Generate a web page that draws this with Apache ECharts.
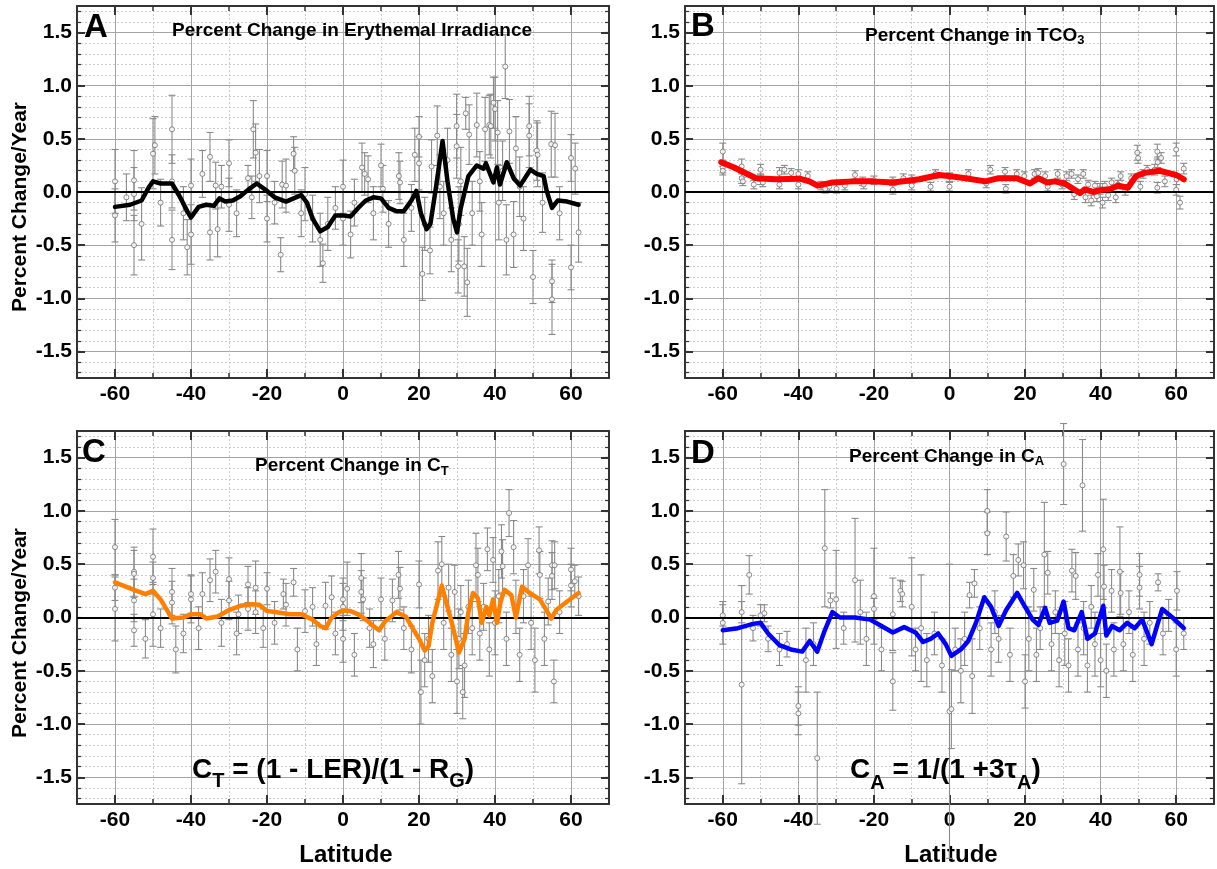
<!DOCTYPE html>
<html><head><meta charset="utf-8">
<script src="https://cdn.jsdelivr.net/npm/echarts@6.0.0/dist/echarts.min.js"></script>
<style>html,body{margin:0;padding:0;background:#fff}#c{width:1217px;height:869px}</style>
</head><body><div id="c"></div>
<script>
// ---------------- DATA ----------------
const xTickLabels = [-60, -40, -20, 0, 20, 40, 60];
const yTickLabels = [-1.5, -1.0, -0.5, 0.0, 0.5, 1.0, 1.5];
const yMinorTickValues = [-1.7,-1.6,-1.5,-1.4,-1.3,-1.2,-1.1,-1.0,-0.9,-0.8,-0.7,-0.6,-0.5,-0.4,-0.3,-0.2,-0.1,0,
  0.1,0.2,0.3,0.4,0.5,0.6,0.7,0.8,0.9,1.0,1.1,1.2,1.3,1.4,1.5,1.6,1.7];

// [latitude, value, error]
const scatterA = [
[-60,0.10,0.30],[-60,-0.22,0.25],[-57,-0.05,0.22],[-55,0.11,0.28],[-55,-0.02,0.25],[-55,-0.50,0.28],[-53,-0.30,0.34],
[-50,0.36,0.33],[-49.5,0.44,0.27],[-48,-0.10,0.22],[-45,0.59,0.32],[-45,0.10,0.25],[-45,-0.45,0.28],[-42,-0.20,0.25],
[-41,-0.52,0.26],[-40,0.06,0.25],[-40,-0.40,0.28],[-37,0.17,0.22],[-35,0.33,0.23],[-35,-0.38,0.26],[-33.5,0.06,0.22],
[-33,-0.35,0.26],[-32,0.05,0.20],[-30,0.27,0.22],[-30,-0.12,0.25],[-28,-0.20,0.22],[-25,0.13,0.12],[-24,-0.05,0.20],
[-23.6,0.59,0.27],[-23,0.37,0.27],[-22,0.15,0.25],[-20,0.15,0.24],[-20,-0.25,0.22],[-18,-0.10,0.20],[-16.4,-0.59,0.16],
[-16,0.07,0.22],[-15,0.06,0.25],[-13,0.36,0.16],[-12.7,0.20,0.22],[-11,-0.20,0.22],[-10,-0.02,0.25],[-8,-0.25,0.22],
[-6,-0.45,0.25],[-5.3,-0.67,0.18],[-4,-0.30,0.25],[-2,-0.15,0.20],[0,0.05,0.25],[0,-0.25,0.25],[2,-0.40,0.22],
[3,-0.10,0.22],[5,0.23,0.23],[5.7,0.17,0.20],[6.6,0.12,0.22],[8,-0.20,0.25],[10,0.25,0.20],[10.5,0.03,0.22],
[12,-0.30,0.22],[14.7,0.15,0.22],[15,0.09,0.20],[16,-0.45,0.25],[18,-0.15,0.22],[18.9,0.35,0.25],[20,0.52,0.19],
[20,0.27,0.25],[20.9,-0.77,0.25],[21.5,-0.30,0.25],[22.9,-0.55,0.22],[23.3,0.24,0.25],[24.8,0.53,0.28],[25.5,0.05,0.30],
[26.5,-0.20,0.30],[27.5,0.30,0.30],[28.5,-0.45,0.30],[29.9,0.62,0.30],[29.9,0.43,0.30],[30.3,-0.70,0.25],[30.5,-0.30,0.35],
[31,0.10,0.32],[31.9,-0.70,0.28],[32.3,0.74,0.15],[32.7,-0.85,0.32],[33.2,0.54,0.28],[34,-0.20,0.30],[35.2,0.63,0.30],
[36,0.10,0.28],[36.5,-0.40,0.30],[37.4,0.59,0.30],[38.5,0.63,0.28],[38.9,0.62,0.30],[39.6,0.84,0.24],[40,0.78,0.30],
[40.7,0.56,0.30],[41,-0.10,0.35],[42,0.20,0.28],[42.7,1.18,0.30],[43,-0.45,0.33],[43.8,0.57,0.30],[44.9,-0.40,0.31],
[45.5,0.41,0.30],[46.5,0.05,0.28],[47.5,-0.25,0.30],[49,0.62,0.28],[49,0.53,0.30],[50,-0.80,0.25],[51,0.39,0.28],
[51.2,0.35,0.30],[52.5,-0.10,0.28],[54.8,0.45,0.31],[55,-0.84,0.20],[55,-1.01,0.33],[55.8,0.44,0.30],[57,-0.20,0.25],
[60,0.32,0.22],[60,-0.71,0.21],[61.1,0.22,0.24],[62,-0.38,0.28]
];
const lineA = [
[-60,-0.14],[-56,-0.12],[-53,-0.08],[-51,0.05],[-50,0.10],[-48,0.08],[-45,0.08],[-43,-0.04],[-41,-0.18],[-40,-0.24],
[-38,-0.14],[-36,-0.12],[-34,-0.13],[-32.5,-0.06],[-31,-0.09],[-29,-0.08],[-27,-0.04],[-25,0.02],[-22.7,0.08],[-20,0.01],
[-18,-0.05],[-15,-0.09],[-13,-0.06],[-11,-0.03],[-9.5,-0.10],[-8,-0.25],[-6,-0.37],[-4,-0.33],[-2,-0.22],[0,-0.22],
[2,-0.23],[4,-0.15],[6,-0.08],[8,-0.05],[10,-0.06],[12,-0.15],[14,-0.18],[16,-0.18],[18,-0.08],[19.3,0.01],
[20.5,-0.20],[22,-0.35],[23,-0.30],[24.5,0.05],[26.2,0.48],[27.5,0.10],[29,-0.25],[30,-0.38],[31,-0.15],[33,0.15],
[35.2,0.25],[37,0.22],[37.6,0.27],[39.6,0.09],[40.5,0.23],[41.3,0.07],[43.1,0.28],[44.9,0.13],[46.6,0.06],[49.3,0.21],
[51,0.17],[52.8,0.15],[53.6,0.01],[55,-0.15],[56.5,-0.08],[59,-0.09],[62,-0.12]
];

const scatterB = [
[-60,0.38,0.08],[-60,0.23,0.05],[-60,0.20,0.04],[-55,0.24,0.07],[-55,0.13,0.05],[-54.7,0.10,0.04],[-51.8,0.07,0.04],
[-50,0.21,0.05],[-50,0.12,0.05],[-49.4,0.09,0.04],[-45,0.18,0.05],[-45,0.07,0.04],[-43.7,0.21,0.04],[-41.9,0.18,0.04],
[-40,0.17,0.04],[-40,0.07,0.04],[-37.5,0.15,0.04],[-34,0.06,0.04],[-32.9,0.03,0.04],[-31.8,0.05,0.04],[-29.9,0.03,0.04],
[-27.7,0.06,0.04],[-25,0.16,0.04],[-23,0.10,0.04],[-22.7,0.07,0.04],[-20,0.11,0.04],[-15,0.10,0.04],[-15,0.02,0.04],
[-12.2,0.13,0.04],[-10,0.12,0.04],[-10,0.06,0.04],[-5,0.05,0.04],[-3.7,0.17,0.04],[0,0.05,0.04],[0,0.14,0.04],
[5,0.17,0.04],[9.7,0.08,0.04],[10.8,0.21,0.04],[14.7,0.19,0.04],[14.9,0.03,0.04],[17.8,0.17,0.04],[19.8,0.15,0.04],
[22.5,0.17,0.04],[23.5,0.18,0.04],[25.3,0.15,0.04],[26,0.05,0.04],[28.6,0.17,0.04],[29.8,0.07,0.04],[31,0.15,0.04],
[32.3,0.17,0.04],[33,-0.02,0.05],[34,0.12,0.04],[35.4,0.17,0.04],[36,-0.05,0.05],[36.7,0.07,0.04],[37.5,-0.08,0.05],
[38.5,0.06,0.04],[39,-0.04,0.05],[39.8,0.03,0.05],[40.5,-0.10,0.05],[41.1,0.06,0.04],[42,-0.03,0.05],[42.9,0.09,0.04],
[44,-0.05,0.05],[44.6,0.07,0.04],[45.3,0.15,0.04],[46.5,0.02,0.05],[48.1,0.13,0.04],[49.7,0.37,0.07],[49.9,0.32,0.05],
[50.5,0.05,0.05],[51.2,0.17,0.04],[52.3,0.21,0.04],[54.3,0.21,0.05],[55,0.38,0.07],[55.1,0.28,0.05],[55,0.04,0.05],
[56,0.32,0.05],[57,0.10,0.05],[60,0.40,0.06],[60.1,0.12,0.05],[60,0.02,0.05],[61,-0.10,0.06],[62,0.22,0.05]
];
const lineB = [
[-60.4,0.28],[-57,0.23],[-54.7,0.19],[-51.2,0.13],[-45.9,0.12],[-39.7,0.125],[-37.1,0.10],[-34.9,0.06],[-30.9,0.09],
[-25.6,0.10],[-20.4,0.10],[-15,0.09],[-10,0.11],[-8,0.12],[-2.8,0.16],[-0.2,0.15],[4.2,0.13],[9.5,0.10],[13,0.13],
[17.8,0.13],[21.3,0.08],[23.5,0.13],[25.7,0.09],[27.9,0.10],[30.5,0.08],[32.7,0.03],[34.5,-0.01],[35.8,0.025],
[38,0.0],[40.2,0.02],[42.4,0.025],[44.6,0.06],[47.2,0.04],[49.4,0.15],[51.6,0.18],[55.6,0.20],[57.8,0.18],[60,0.16],[62,0.12]
];

const scatterC = [
[-60,0.66,0.26],[-60,0.28,0.12],[-60,0.08,0.30],[-55,0.43,0.23],[-55,0.41,0.22],[-55,0.16,0.20],[-55,-0.12,0.15],
[-52,-0.20,0.18],[-50,0.57,0.26],[-50,0.37,0.15],[-50,0.03,0.30],[-48,-0.10,0.18],[-45,0.24,0.22],[-45,0.14,0.20],
[-44,-0.30,0.22],[-42,-0.15,0.18],[-40,0.22,0.18],[-40,0.17,0.22],[-38,-0.10,0.20],[-37,0.22,0.20],[-35,0.35,0.20],
[-33.5,0.43,0.20],[-32,-0.05,0.22],[-30,0.36,0.20],[-30,0.16,0.18],[-28,-0.15,0.20],[-27.5,0.03,0.18],[-25,0.31,0.17],
[-25,0.08,0.20],[-23,0.28,0.25],[-23,0.05,0.20],[-21,-0.10,0.18],[-20,0.27,0.15],[-18,-0.05,0.20],[-15.7,0.22,0.14],
[-15,0.12,0.20],[-13,0.33,0.13],[-12,-0.30,0.20],[-10,0.06,0.20],[-8,0.10,0.18],[-7,-0.25,0.20],[-4.6,0.11,0.22],
[-3,0.19,0.20],[-2,-0.15,0.20],[0,0.17,0.20],[0,0.10,0.22],[0,-0.20,0.22],[1.1,0.27,0.25],[3,-0.35,0.20],[4.8,0.37,0.23],
[4.8,0.24,0.20],[5.3,0.17,0.20],[7,-0.10,0.18],[8,-0.25,0.22],[10,0.17,0.20],[11,-0.20,0.20],[13,0.16,0.20],
[14.6,0.40,0.22],[15,0.27,0.20],[16,-0.10,0.20],[18,-0.30,0.22],[20,0.31,0.22],[20.5,-0.70,0.30],[21.5,-0.40,0.25],
[22.5,-0.20,0.22],[23.5,-0.55,0.25],[25,0.44,0.27],[26,0.50,0.26],[26.5,-0.05,0.25],[27.8,0.28,0.22],[28.5,-0.35,0.25],
[29.4,0.24,0.25],[30,-0.60,0.30],[30.5,-0.20,0.28],[31,0.05,0.25],[31.5,-0.70,0.25],[32,-0.45,0.30],[33,0.10,0.25],
[34,-0.10,0.25],[35,0.49,0.30],[35.5,0.40,0.25],[36,-0.15,0.25],[37,0.10,0.22],[38,0.64,0.20],[38.5,-0.30,0.25],
[39.5,0.54,0.21],[40,-0.05,0.30],[41,0.20,0.25],[41.7,0.62,0.25],[42,0.48,0.25],[43,-0.20,0.25],[43.7,0.98,0.22],
[44.9,0.66,0.25],[45.5,0.10,0.25],[46.5,-0.35,0.25],[47.5,0.20,0.25],[48.7,0.49,0.25],[49.5,-0.05,0.25],[50.5,-0.40,0.30],
[51.6,0.63,0.22],[51.8,0.40,0.22],[53,-0.20,0.25],[54,0.15,0.22],[55,0.49,0.23],[55.7,0.49,0.22],[55,0.39,0.22],
[55.5,-0.60,0.20],[57,0.05,0.20],[60,0.45,0.20],[60,0.30,0.20],[61,0.34,0.15],[62,0.20,0.18]
];
const lineC = [
[-60,0.33],[-55,0.26],[-52,0.22],[-50,0.25],[-48,0.17],[-45,-0.01],[-42,0.0],[-40,0.03],[-37.5,0.03],[-36,-0.01],
[-33,0.01],[-30,0.07],[-27,0.11],[-24,0.125],[-22,0.12],[-20,0.06],[-17.5,0.05],[-14,0.03],[-11,0.03],[-8,-0.02],
[-6,-0.08],[-4.5,-0.10],[-3,0.0],[-1,0.05],[0,0.065],[2,0.06],[4,0.03],[6,-0.02],[8,-0.08],[9.5,-0.12],[11,-0.04],
[13,0.02],[14,0.05],[16.5,0.01],[18,-0.08],[20,-0.20],[21.5,-0.31],[22.5,-0.27],[23.5,-0.05],[26,0.30],[27.5,0.10],
[29,-0.10],[30.5,-0.33],[32,-0.20],[33,0.05],[34.2,0.23],[35.5,0.18],[36.5,-0.05],[37.7,0.10],[38.5,0.02],[39.5,0.17],
[40.5,-0.05],[41.5,0.15],[42.5,0.26],[44.3,0.21],[45.5,0.0],[47.1,0.29],[49.1,0.23],[51.8,0.17],[53,0.10],[54.8,-0.01],
[56.1,0.07],[59,0.15],[62,0.23]
];

const scatterD = [
[-60,-0.05,0.20],[-60,0.02,0.10],[-55,-0.63,0.93],[-55,0.05,0.10],[-53,0.40,0.18],[-52,-0.10,0.12],[-50,0.02,0.10],
[-49,0.04,0.08],[-48,-0.20,0.12],[-45,-0.30,0.15],[-43,-0.25,0.12],[-40,-0.83,0.18],[-40,-0.90,0.20],[-38,-0.40,0.30],
[-36,-0.25,0.20],[-35,-1.32,0.62],[-33,0.65,0.55],[-31.5,0.16,0.07],[-30,0.17,0.46],[-28,-0.10,0.15],[-25,0.35,0.58],
[-23.6,0.05,0.30],[-22,-0.20,0.25],[-20,0.20,0.45],[-20,0.08,0.10],[-18,-0.30,0.20],[-15,0.03,0.34],[-15,-0.60,0.27],
[-13,0.25,0.10],[-12.5,0.22,0.12],[-10,0.10,0.46],[-9,-0.30,0.20],[-7.5,-0.10,0.50],[-6,-0.40,0.25],[-4,-0.15,0.20],
[-2,-0.45,0.25],[0,-0.88,1.38],[0.5,-0.86,0.37],[1.5,-0.30,0.20],[3,-0.50,0.30],[4,-0.20,0.25],[5.3,0.21,0.12],
[6,-0.55,0.35],[6.6,0.32,0.13],[8,-0.10,0.20],[10,1.0,0.20],[10,0.79,0.20],[11,-0.30,0.25],[12,0.05,0.20],[13,-0.20,0.22],
[15,0.76,0.23],[16,-0.35,0.25],[16.9,0.39,0.20],[18.2,0.54,0.15],[19.6,0.49,0.22],[20,-0.60,0.25],[21,-0.20,0.30],
[22.3,0.26,0.20],[23,-0.35,0.25],[24,-0.10,0.20],[25.1,0.59,0.49],[26,0.42,0.20],[27,-0.25,0.25],[28,0.05,0.20],
[29,-0.40,0.25],[30.2,1.44,0.38],[30.5,-0.15,0.30],[31.5,-0.45,0.25],[32.4,0.44,0.20],[33.4,0.39,0.22],[34,-0.30,0.25],
[35.2,1.24,0.43],[35.5,-0.10,0.25],[36.5,-0.45,0.25],[37.5,0.10,0.20],[38.5,-0.25,0.30],[39.3,0.40,0.20],[40,-0.40,0.25],
[40.7,0.64,0.47],[40.9,0.29,0.20],[41.5,-0.50,0.25],[42.9,0.25,0.20],[43.5,-0.30,0.25],[45.1,0.43,0.42],[45.3,0.23,0.20],
[46,-0.25,0.25],[47.5,0.05,0.20],[48.5,-0.35,0.25],[50.3,0.40,0.20],[50.3,0.28,0.20],[51.5,-0.20,0.25],[53,-0.05,0.20],
[55.2,0.33,0.08],[56.5,-0.15,0.20],[58,0.02,0.15],[60.2,0.25,0.18],[60,-0.30,0.25],[62,-0.15,0.15]
];
const lineD = [
[-60,-0.12],[-56,-0.10],[-52,-0.06],[-50,-0.05],[-48,-0.15],[-45,-0.26],[-42,-0.30],[-39,-0.32],[-37,-0.22],[-35,-0.32],
[-33,-0.12],[-31,0.05],[-29,0.0],[-25,0.0],[-21,-0.02],[-18,-0.08],[-15,-0.14],[-12,-0.09],[-9,-0.14],[-7,-0.23],
[-5,-0.20],[-3,-0.15],[-1,-0.25],[0.5,-0.36],[3,-0.30],[5,-0.22],[7,-0.05],[9.2,0.19],[11,0.10],[13,-0.08],[15,0.07],
[17.9,0.23],[20,0.10],[22,-0.02],[23.5,-0.07],[25.3,0.09],[26.5,-0.05],[28.5,-0.03],[30.2,0.15],[31.5,-0.10],[33,-0.12],
[35,0.05],[36.5,-0.20],[38.5,-0.15],[40.7,0.11],[41.5,-0.17],[43,-0.08],[45,-0.12],[47,-0.05],[49,-0.10],[51,-0.02],
[53.5,-0.25],[55,-0.07],[56.3,0.08],[59,0.0],[62,-0.10]
];

// ---------------- STYLE / LAYOUT ----------------
const FONT = '"Liberation Sans", Arial, Helvetica, sans-serif';
const FRAME = '#333333';
const MAJOR = '#a4a4a4';
const MINOR = '#cccccc';
const TR = 'rgba(0,0,0,0)';
const ERR = '#8a8a8a';

const panels = [
  { grid: {left: 77, top: 6, width: 532, height: 372}, scatter: scatterA, line: lineA, color: '#000000', width: 4.5 },
  { grid: {left: 685, top: 6, width: 531, height: 372}, scatter: scatterB, line: lineB, color: '#ff0000', width: 6 },
  { grid: {left: 77, top: 431, width: 532, height: 373}, scatter: scatterC, line: lineC, color: '#ff8000', width: 4.5 },
  { grid: {left: 685, top: 431, width: 531, height: 373}, scatter: scatterD, line: lineD, color: '#0000ff', width: 4.5 }
];

function makeXAxes(g) {
  const base = {gridIndex: g, type: 'value', min: -70, max: 70, interval: 10};
  const line = {show: true, onZero: false, lineStyle: {color: FRAME, width: 2}};
  const noLine = {show: false, onZero: false};
  return [
    Object.assign({}, base, {
      position: 'bottom', axisLine: line,
      axisTick: {show: true, inside: true, length: 5, lineStyle: {color: FRAME, width: 1.5}},
      axisLabel: {show: true, interval: 0, margin: 6, color: '#000', fontSize: 21, fontWeight: 'bold', fontFamily: FONT,
        formatter: v => (Math.abs(v) < 65 && Math.round(v) % 20 === 0) ? String(Math.round(v)) : ''},
      splitLine: {show: true, lineStyle: {color: [TR, MAJOR], width: 1, type: 'solid'}}
    }),
    Object.assign({}, base, {
      position: 'top', axisLine: line,
      axisTick: {show: true, inside: true, length: 5, lineStyle: {color: FRAME, width: 1.5}},
      axisLabel: {show: false},
      splitLine: {show: true, lineStyle: {color: [MINOR, TR], width: 1, type: [2, 2]}}
    }),
    Object.assign({}, base, {
      position: 'bottom', axisLine: noLine, axisLabel: {show: false}, splitLine: {show: false},
      axisTick: {show: true, inside: true, length: 9, customValues: xTickLabels, lineStyle: {color: FRAME, width: 2}}
    }),
    Object.assign({}, base, {
      position: 'top', axisLine: noLine, axisLabel: {show: false}, splitLine: {show: false},
      axisTick: {show: true, inside: true, length: 9, customValues: xTickLabels, lineStyle: {color: FRAME, width: 2}}
    })
  ];
}

function makeYAxes(g) {
  const base = {gridIndex: g, type: 'value', min: -1.75, max: 1.75};
  const line = {show: true, onZero: false, lineStyle: {color: FRAME, width: 2}};
  const noLine = {show: false, onZero: false};
  const tickAxis = (pos, len, vals, w) => Object.assign({}, base, {
    interval: 0.25, position: pos, axisLine: noLine, axisLabel: {show: false}, splitLine: {show: false},
    axisTick: {show: true, inside: true, length: len, customValues: vals, lineStyle: {color: FRAME, width: w}}
  });
  return [
    Object.assign({}, base, {
      interval: 0.25, position: 'left', axisLine: line, axisTick: {show: false},
      axisLabel: {show: true, margin: 5, color: '#000', fontSize: 21, fontWeight: 'bold', fontFamily: FONT,
        formatter: v => (Math.abs(v * 2 - Math.round(v * 2)) < 1e-6 && Math.abs(v) < 1.6) ? (Math.round(v * 10) / 10).toFixed(1) : ''},
      splitLine: {show: true, lineStyle: {color: [TR, MAJOR], width: 1, type: 'solid'}}
    }),
    Object.assign({}, base, {
      interval: 0.05, position: 'right', axisLine: line, axisTick: {show: false}, axisLabel: {show: false},
      splitLine: {show: true, lineStyle: {color: [TR, MINOR, TR, MINOR, TR, TR, TR, MINOR, TR, MINOR], width: 1, type: [2, 2]}}
    }),
    tickAxis('left', 4, yMinorTickValues, 1.2),
    tickAxis('left', 8, yTickLabels, 2),
    tickAxis('right', 4, yMinorTickValues, 1.2),
    tickAxis('right', 8, yTickLabels, 2)
  ];
}

function errRender(params, api) {
  const x = api.value(0), y = api.value(1), e = api.value(2);
  const lo = api.coord([x, y - e]);
  const hi = api.coord([x, y + e]);
  const w = 3.5;
  const st = {stroke: ERR, lineWidth: 1.1};
  return {
    type: 'group', children: [
      {type: 'line', shape: {x1: lo[0], y1: lo[1], x2: hi[0], y2: hi[1]}, style: st},
      {type: 'line', shape: {x1: lo[0] - w, y1: lo[1], x2: lo[0] + w, y2: lo[1]}, style: st},
      {type: 'line', shape: {x1: hi[0] - w, y1: hi[1], x2: hi[0] + w, y2: hi[1]}, style: st}
    ]
  };
}

const grid = [], xAxis = [], yAxis = [], series = [];
panels.forEach((p, i) => {
  grid.push(Object.assign({containLabel: false}, p.grid));
  xAxis.push(...makeXAxes(i));
  yAxis.push(...makeYAxes(i));
  const xi = i * 4, yi = i * 6;
  series.push({
    type: 'custom', xAxisIndex: xi, yAxisIndex: yi, data: p.scatter, encode: {x: 0, y: 1},
    renderItem: errRender, z: 2, silent: true, clip: false
  });
  series.push({
    type: 'scatter', xAxisIndex: xi, yAxisIndex: yi, data: p.scatter.map(d => [d[0], d[1]]),
    symbol: 'circle', symbolSize: 5, z: 3, silent: true,
    itemStyle: {color: '#ffffff', borderColor: '#6e6e6e', borderWidth: 1},
    markLine: {silent: true, symbol: 'none', animation: false, label: {show: false},
      lineStyle: {color: '#000', width: 2, type: 'solid'}, data: [{yAxis: 0}]}
  });
  series.push({
    type: 'line', xAxisIndex: xi, yAxisIndex: yi, data: p.line, symbol: 'none', showSymbol: false, z: 5, silent: true,
    lineStyle: {color: p.color, width: p.width, cap: 'round', join: 'round'}
  });
});

const tStyle = (fs, lh) => ({fontSize: fs, fontWeight: 'bold', fontFamily: FONT, color: '#000', lineHeight: lh});
const subStyle = (fs, lh, pad) => ({fontSize: fs, fontWeight: 'bold', fontFamily: FONT, color: '#000', lineHeight: lh, padding: [pad, 0, 0, 0]});

const title = [
  {text: 'A', left: 84, top: 11, padding: 0, textStyle: tStyle(33, 33)},
  {text: 'B', left: 691, top: 10, padding: 0, textStyle: tStyle(33, 33)},
  {text: 'C', left: 82, top: 436, padding: 0, textStyle: tStyle(33, 33)},
  {text: 'D', left: 691, top: 437, padding: 0, textStyle: tStyle(33, 33)},
  {text: 'Percent Change in Erythemal Irradiance', left: 172, top: 21, padding: 0, textStyle: tStyle(19, 20)},
  {text: '{m|Percent Change in TCO}{s|3}', left: 865, top: 20.5, padding: 0,
    textStyle: {rich: {m: tStyle(19, 30), s: subStyle(13, 14, 10)}}},
  {text: '{m|Percent Change in C}{s|T}', left: 255, top: 451, padding: 0,
    textStyle: {rich: {m: tStyle(19, 30), s: subStyle(13, 14, 10)}}},
  {text: '{m|Percent Change in C}{s|A}', left: 849, top: 441.5, padding: 0,
    textStyle: {rich: {m: tStyle(19, 30), s: subStyle(13, 14, 10)}}},
  {text: '{m|C}{s|T}{m| = (1 - LER)/(1 - R}{s|G}{m|)}', left: 192, top: 745, padding: 0,
    textStyle: {rich: {m: tStyle(28, 50), s: subStyle(20, 20, 22)}}},
  {text: '{m|C}{s|A}{m| = 1/(1 +3τ}{s|A}{m|)}', left: 850, top: 745, padding: 0,
    textStyle: {rich: {m: tStyle(28, 50), s: subStyle(20, 20, 26)}}}
];

const nameText = (x, y, text, fs, rot) => ({
  type: 'text', x: x, y: y, rotation: rot, silent: true,
  style: {text: text, fontSize: fs, fontWeight: 'bold', fontFamily: FONT, fill: '#000',
    align: 'center', verticalAlign: 'middle'}
});
const graphic = [
  nameText(20, 207, 'Percent Change/Year', 21, Math.PI / 2),
  nameText(20, 633, 'Percent Change/Year', 21, Math.PI / 2),
  nameText(346, 855, 'Latitude', 24, 0),
  nameText(951, 855, 'Latitude', 24, 0)
];

const chart = echarts.init(document.getElementById('c'), null, {renderer: 'canvas'});
chart.setOption({
  animation: false,
  backgroundColor: '#ffffff',
  title: title,
  grid: grid,
  xAxis: xAxis,
  yAxis: yAxis,
  series: series,
  graphic: graphic
});
</script></body></html>
